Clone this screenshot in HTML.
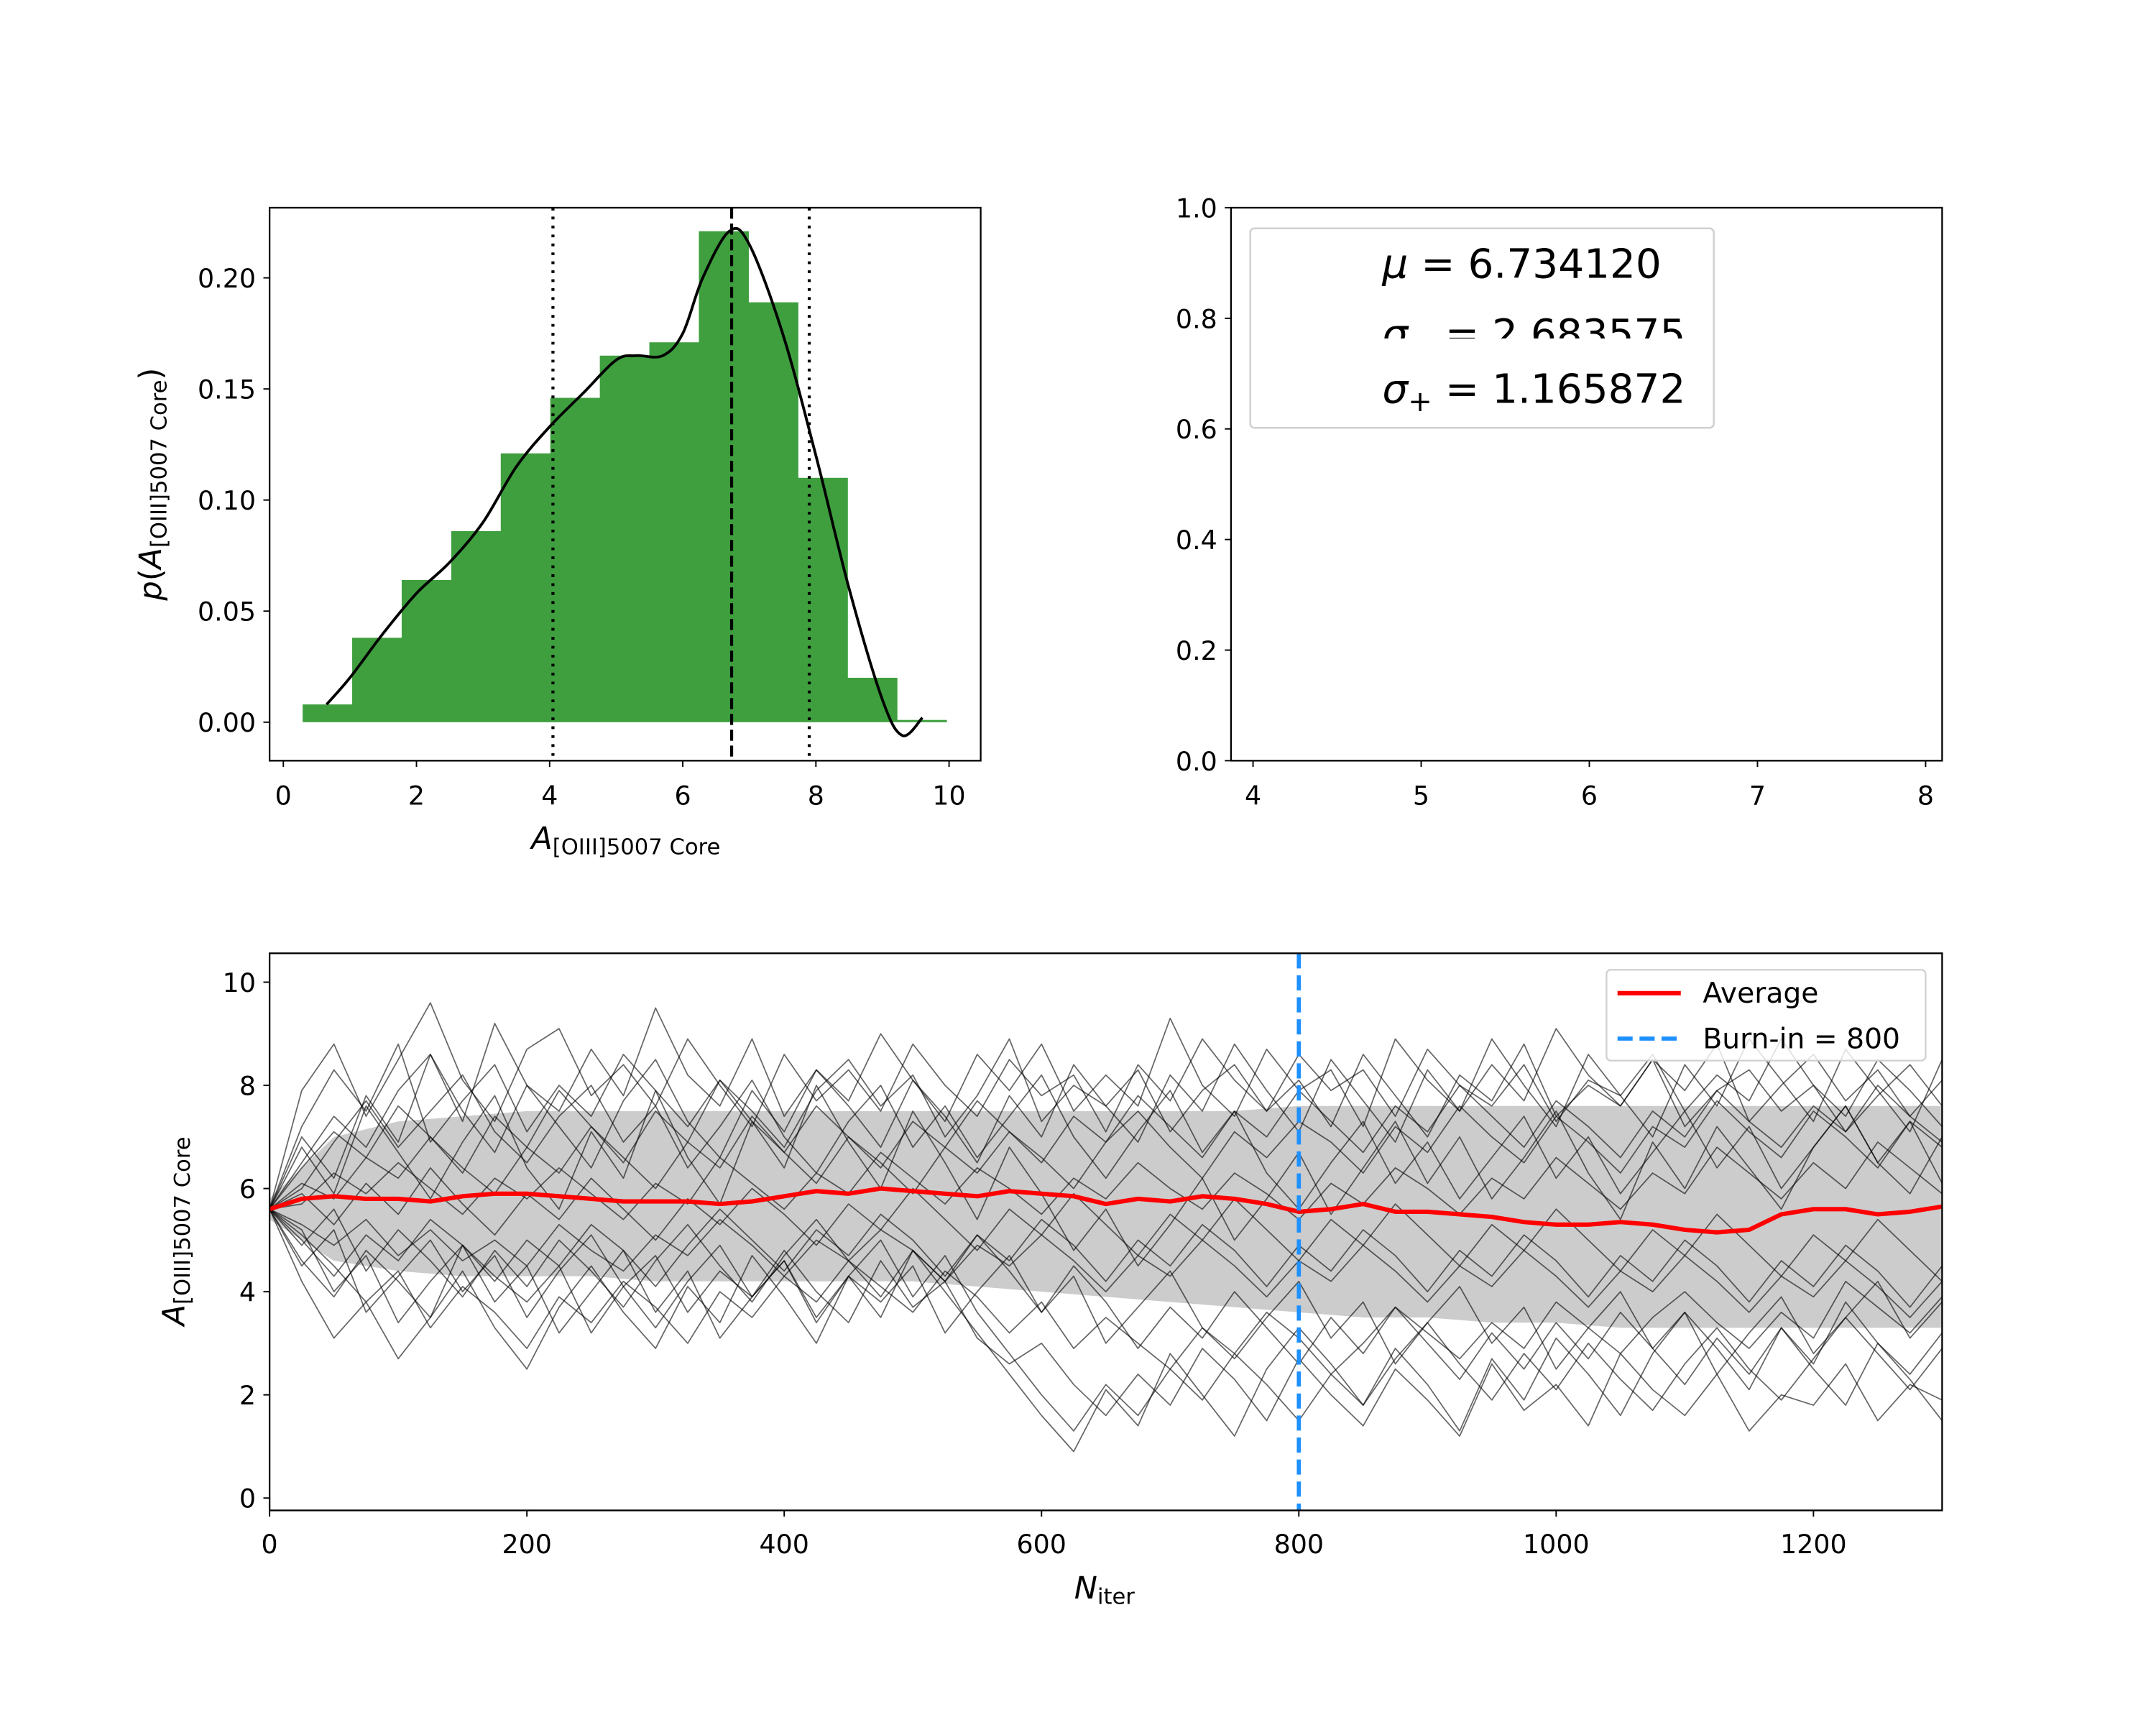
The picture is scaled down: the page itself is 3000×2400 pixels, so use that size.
<!DOCTYPE html>
<html><head><meta charset="utf-8"><style>
html,body{margin:0;padding:0;background:#fff}
svg{display:block}
text{font-family:"DejaVu Sans","Liberation Sans",sans-serif;fill:#000}
</style></head><body>
<svg id="fig" width="3000" height="2400" viewBox="0 0 1567.5 1254" xmlns="http://www.w3.org/2000/svg">
<rect width="1567.5" height="1254" fill="#fff"/>
<g id="hist"></g>
<g id="stats"></g>
<g id="trace"></g>
</svg>
<script>
// ---- histogram data ----
const binStart = 0.29;
const binWidth = 0.744;
const binHeights = [0.008,0.038,0.064,0.086,0.121,0.146,0.165,0.171,0.221,0.189,0.110,0.020,0.001];
const kdeX = [0.65,1.0,1.5,2.0,2.5,3.0,3.5,4.0,4.5,5.0,5.3,5.7,6.0,6.3,6.7,7.0,7.5,8.0,8.5,9.0,9.3,9.6];
const kdeY = [0.008,0.02,0.04,0.058,0.072,0.09,0.115,0.133,0.148,0.163,0.165,0.165,0.175,0.2,0.221,0.215,0.175,0.12,0.06,0.01,-0.006,0.002];
const histXTicks = [0,2,4,6,8,10];
const histYTicks = [0.00,0.05,0.10,0.15,0.20];
const quantileLo = 4.05, meanVal = 6.734, quantileHi = 7.9;
// ---- stats panel ----
const statsXTicks = [4,5,6,7,8];
const statsYTicks = [0.0,0.2,0.4,0.6,0.8,1.0];
// ---- trace data (iterations every 25) ----
const iterStep = 25;
const avgTrace = [5.6,5.8,5.85,5.8,5.8,5.75,5.85,5.9,5.9,5.85,5.8,5.75,5.75,5.75,5.7,5.75,5.85,5.95,5.9,6.0,5.95,5.9,5.85,5.95,5.9,5.85,5.7,5.8,5.75,5.85,5.8,5.7,5.55,5.6,5.7,5.55,5.55,5.5,5.45,5.35,5.3,5.3,5.35,5.3,5.2,5.15,5.2,5.5,5.6,5.6,5.5,5.55,5.65];
const bandLow = [5.4,4.6,4.4,4.3,4.3,4.3,4.2,4.2,4.2,4.2,4.2,4.1,4.0,3.9,3.8,3.7,3.6,3.5,3.5,3.4,3.4,3.3,3.3,3.3,3.3,3.3,3.3];
const bandHigh = [5.8,7.0,7.3,7.4,7.5,7.5,7.5,7.5,7.5,7.5,7.5,7.5,7.5,7.5,7.5,7.5,7.6,7.6,7.6,7.6,7.6,7.6,7.6,7.6,7.6,7.6,7.6];
const bandStep = 50;
const walkers = [
[5.6,7.2,8.3,7.5,8.8,6.9,7.7,8.4,7.1,8.0,7.4,8.6,7.9,7.2,8.1,7.5,6.8,7.9,8.5,7.6,8.2,7.0,7.8,8.9,7.3,8.0,7.6,8.3,7.1,7.9,8.4,7.5,8.1,7.2,8.6,7.8,7.0,8.2,7.7,8.8,7.4,8.0,7.6,8.5,7.2,7.9,8.3,7.5,8.0,7.1,7.8,8.4,7.6],
[5.6,4.6,3.9,4.8,4.2,3.5,4.9,4.3,3.8,4.5,3.2,4.1,4.7,3.6,4.4,3.9,4.8,4.0,3.4,4.6,3.7,4.2,3.1,2.6,3.0,2.2,1.6,2.4,1.8,2.9,2.3,1.5,2.7,2.0,1.4,2.5,1.9,1.2,2.6,1.7,2.2,1.4,2.8,2.1,1.6,2.4,1.3,2.0,1.8,2.6,1.5,2.2,1.9],
[5.6,6.5,7.4,6.8,7.9,8.6,7.3,9.2,8.0,7.5,8.7,7.8,9.5,8.2,7.6,8.9,7.4,8.3,7.7,9.0,8.1,7.3,8.6,7.9,8.8,7.5,8.2,7.6,9.3,8.0,7.4,8.7,7.9,8.3,7.2,8.9,8.1,7.5,8.4,7.7,9.1,8.2,7.6,8.5,7.9,8.8,7.3,8.0,8.6,7.7,8.3,7.4,8.1],
[5.6,5.1,4.5,3.8,4.4,3.3,4.1,3.6,2.9,3.9,3.4,4.2,3.7,3.0,4.0,3.5,4.3,3.8,4.6,4.1,3.6,4.4,3.9,3.2,3.8,2.9,3.5,3.0,2.5,3.3,2.8,3.6,3.1,2.4,3.0,3.7,3.2,2.7,3.4,2.9,3.8,3.3,2.8,3.5,4.0,3.4,2.9,3.6,3.1,4.2,3.7,3.2,3.9],
[5.6,6.1,5.8,6.6,6.2,7.0,6.4,5.9,6.8,6.3,7.2,6.6,6.0,6.9,6.4,7.4,6.7,6.1,7.0,6.5,5.9,6.8,6.3,7.1,6.6,6.0,6.9,7.5,6.8,6.2,7.1,6.6,7.3,6.9,6.3,7.2,6.7,7.6,7.0,6.5,7.4,6.9,6.3,7.2,6.8,7.7,7.1,6.6,7.5,7.0,6.4,7.3,6.8],
[5.6,5.3,4.9,5.4,4.7,5.2,4.6,5.0,4.5,5.3,4.8,4.4,5.1,4.7,5.4,4.9,4.3,5.0,4.6,5.2,4.8,4.2,4.9,4.5,5.1,4.6,4.0,4.7,4.3,5.0,4.5,3.9,4.6,4.2,4.9,4.4,3.8,4.5,4.1,4.8,4.3,3.7,4.4,4.0,4.7,4.2,3.6,4.3,3.9,4.6,4.1,3.5,4.2],
[5.6,6.8,5.9,7.6,6.7,5.8,6.9,7.8,6.4,5.6,7.1,6.2,7.9,6.6,5.7,7.3,6.4,8.0,6.9,6.0,7.5,6.5,5.4,6.8,5.9,4.8,5.6,4.5,5.3,6.2,5.0,5.8,6.7,5.5,6.4,7.3,6.1,7.0,5.8,6.6,7.5,6.3,5.4,6.9,6.0,7.2,6.4,5.6,6.8,7.6,6.5,5.9,7.0],
[5.6,4.2,3.1,3.8,2.7,3.5,4.4,3.3,2.5,3.7,4.5,3.6,2.9,4.1,3.4,4.7,3.9,3.0,4.3,3.5,4.8,4.0,3.2,2.4,1.6,0.9,2.1,1.4,2.8,2.0,1.2,2.5,3.3,2.6,1.8,2.9,2.2,1.3,2.7,1.9,3.1,2.4,1.6,2.8,3.6,2.9,2.1,3.3,2.5,1.8,3.0,2.3,1.5],
[5.6,7.9,8.8,7.4,8.5,9.6,8.1,7.3,8.7,9.1,7.8,8.4,7.6,8.9,8.0,7.2,8.6,7.7,8.3,7.5,8.8,8.0,7.4,8.5,7.8,8.2,7.1,8.4,7.7,8.9,8.1,7.5,8.6,7.9,8.3,7.4,8.7,8.0,7.6,8.4,7.3,8.1,7.8,8.6,7.5,8.2,7.7,8.9,8.0,7.4,8.5,7.9,7.2],
[5.6,5.7,6.3,5.9,6.5,6.0,5.5,6.2,5.8,6.4,5.9,5.4,6.1,5.7,6.6,6.1,5.6,6.3,5.9,6.7,6.2,5.7,6.4,6.0,5.5,6.2,5.8,6.5,6.0,5.6,6.3,5.9,5.4,6.1,5.7,6.4,6.0,5.5,6.2,5.8,6.6,6.1,5.6,6.3,5.9,6.8,6.3,5.8,6.5,6.0,6.9,6.4,5.9],
[5.6,4.9,5.6,4.4,5.2,4.6,3.9,4.8,4.1,5.0,4.4,3.7,4.6,5.3,4.5,3.8,4.7,5.4,4.6,3.9,4.8,4.2,5.1,4.4,3.6,4.5,3.8,2.9,3.7,3.1,4.0,3.3,2.6,3.5,2.8,3.7,3.0,2.3,3.2,2.5,3.4,2.7,3.6,2.9,2.2,3.1,2.4,3.3,2.6,3.8,3.0,2.4,3.2],
[5.6,6.4,7.1,6.6,7.6,7.0,6.3,7.4,6.8,7.9,7.2,6.5,7.5,6.9,8.1,7.3,6.7,7.6,7.0,6.4,7.3,6.8,7.7,7.1,6.5,7.4,6.9,7.8,7.2,6.6,7.5,7.0,7.9,7.3,6.7,7.6,7.1,8.0,7.4,6.8,7.7,7.2,6.6,7.5,7.0,7.9,7.3,6.8,7.6,7.1,8.0,7.4,6.9],
[5.6,5.0,4.3,5.1,4.6,5.4,4.9,4.2,5.0,4.5,5.3,4.8,4.1,4.9,5.6,5.0,4.4,5.2,4.7,5.5,5.0,4.3,5.1,4.6,5.4,4.9,4.2,5.0,4.5,5.3,4.8,4.1,4.9,4.4,5.2,4.7,4.0,4.8,4.3,5.1,4.6,3.9,4.7,4.2,5.0,4.5,3.8,4.6,4.1,4.9,4.4,3.7,4.5],
[5.6,6.0,6.9,7.7,6.8,7.5,8.2,7.1,6.5,7.4,8.0,6.9,7.6,6.4,7.2,8.1,7.0,6.3,7.3,8.0,6.8,7.6,6.6,7.4,8.2,7.0,6.2,7.1,7.9,6.7,7.5,6.3,5.6,6.5,7.3,6.1,6.9,5.8,6.6,7.4,6.2,7.0,5.9,6.7,7.5,6.4,7.2,6.0,6.8,7.6,6.5,7.3,6.1],
[5.6,4.5,5.2,3.6,4.3,5.0,4.0,4.7,3.5,4.4,5.1,4.1,3.3,4.2,4.9,3.9,4.6,3.4,4.3,3.8,4.5,3.2,4.0,4.7,3.6,4.3,3.0,3.7,4.4,3.3,2.7,3.5,4.2,3.1,3.8,2.6,3.4,4.1,3.0,3.7,2.5,3.3,4.0,2.9,3.6,2.4,3.2,3.9,2.8,3.5,4.2,3.1,3.8],
[5.6,5.9,5.3,6.1,5.5,6.4,5.7,5.1,5.9,5.4,6.2,5.6,5.0,5.8,5.3,6.0,5.5,4.9,5.7,5.2,6.0,5.4,4.8,5.6,5.1,5.9,5.3,4.7,5.5,5.0,5.8,5.2,4.6,5.4,4.9,5.7,5.1,4.5,5.3,4.8,5.6,5.0,4.4,5.2,4.7,5.5,4.9,4.3,5.1,4.6,5.4,4.8,4.2],
[5.6,7.0,6.2,7.8,6.9,8.6,7.5,6.7,8.0,7.2,6.4,7.7,8.5,7.3,6.6,7.9,7.1,8.3,7.6,6.8,8.1,7.4,6.5,7.8,7.0,8.4,7.6,6.9,8.2,7.5,8.8,7.9,7.1,8.5,7.7,6.9,8.3,7.5,8.9,8.0,7.2,8.6,7.8,7.0,8.4,7.6,8.9,8.1,7.3,8.7,7.9,7.1,8.5],
[5.6,5.2,4.0,4.7,3.4,4.2,4.9,3.8,4.5,3.2,4.0,4.8,3.6,4.4,3.1,3.9,4.6,3.5,4.3,5.0,3.9,4.7,3.6,2.8,2.0,1.3,2.2,1.6,2.5,1.9,2.8,2.2,1.5,2.4,1.8,2.7,3.4,2.6,1.9,2.8,2.1,3.0,2.3,1.7,2.6,3.3,2.5,1.9,2.7,3.5,2.8,2.1,2.9]
];
const traceXTicks = [0,200,400,600,800,1000,1200];
const traceYTicks = [0,2,4,6,8,10];
const burnIn = 800;

const NS='http://www.w3.org/2000/svg';
const TICK_FS=19, LABEL_FS=22.5, SUB_FS=16;
function el(parent, tag, attrs, txt){
  const e=document.createElementNS(NS,tag);
  for(const k in attrs) e.setAttribute(k,attrs[k]);
  if(txt!==undefined) e.textContent=txt;
  parent.appendChild(e); return e;
}
function smoothPath(pts){
  let d='M'+pts[0][0].toFixed(2)+','+pts[0][1].toFixed(2);
  for(let i=0;i<pts.length-1;i++){
    const p0=pts[Math.max(0,i-1)],p1=pts[i],p2=pts[i+1],p3=pts[Math.min(pts.length-1,i+2)];
    const c1=[p1[0]+(p2[0]-p0[0])/6,p1[1]+(p2[1]-p0[1])/6];
    const c2=[p2[0]-(p3[0]-p1[0])/6,p2[1]-(p3[1]-p1[1])/6];
    d+='C'+c1[0].toFixed(2)+','+c1[1].toFixed(2)+' '+c2[0].toFixed(2)+','+c2[1].toFixed(2)+' '+p2[0].toFixed(2)+','+p2[1].toFixed(2);
  }
  return d;
}
// ================= histogram =================
const H=document.getElementById('hist');
const hx=v=>206+(690-206)*v/10;
const hy=v=>525-(525-202)*v/0.20;
binHeights.forEach((h,i)=>{
  const x0=binStart+i*binWidth;
  const r=el(H,'rect',{x:hx(x0),y:hy(h),width:hx(x0+binWidth)-hx(x0)+0.3,height:hy(0)-hy(h),fill:'#3f9f3f'});
  
  
});
const kde=el(H,'path',{d:smoothPath(kdeX.map((x,i)=>[hx(x),hy(kdeY[i])])),fill:'none',stroke:'#000','stroke-width':2,'stroke-linejoin':'round'});


[[quantileLo,'2,4.5'],[meanVal,'8,3.5'],[quantileHi,'2,4.5']].forEach(([v,da],i)=>{
  const l=el(H,'line',{x1:hx(v),x2:hx(v),y1:151,y2:553,stroke:'#000','stroke-width':2.2,'stroke-dasharray':da});
  
  
});
const hf=el(H,'rect',{x:196,y:151,width:517,height:402,fill:'none',stroke:'#000','stroke-width':1.2});


histXTicks.forEach(t=>{
  el(H,'line',{x1:hx(t),x2:hx(t),y1:553,y2:557.5,stroke:'#000','stroke-width':1});
  const tl=el(H,'text',{x:hx(t),y:585,'font-size':TICK_FS,'text-anchor':'middle'},String(t));
  
  
});
histYTicks.forEach(t=>{
  el(H,'line',{x1:196,x2:191.5,y1:hy(t),y2:hy(t),stroke:'#000','stroke-width':1});
  const tl=el(H,'text',{x:186,y:hy(t)+7,'font-size':TICK_FS,'text-anchor':'end'},t.toFixed(2));
  
  
});
const hxl=el(H,'text',{x:455,y:617,'font-size':LABEL_FS,'text-anchor':'middle'});


hxl.innerHTML='<tspan font-style="italic">A</tspan><tspan font-size="'+SUB_FS+'" dy="4">[OIII]5007 Core</tspan>';
const hyl=el(H,'text',{x:0,y:0,'font-size':LABEL_FS,'text-anchor':'middle',transform:'translate(117,352) rotate(-90)'});


hyl.innerHTML='<tspan font-style="italic">p</tspan>(<tspan font-style="italic">A</tspan><tspan font-size="'+SUB_FS+'" dy="4">[OIII]5007 Core</tspan><tspan dy="-4">)</tspan>';

// ================= stats panel =================
const S=document.getElementById('stats');
const sx=v=>911+(1400-911)*(v-4)/4;
const sy=v=>553-402*v;
const sf=el(S,'rect',{x:895,y:151,width:517,height:402,fill:'none',stroke:'#000','stroke-width':1.2});


statsXTicks.forEach(t=>{
  el(S,'line',{x1:sx(t),x2:sx(t),y1:553,y2:557.5,stroke:'#000','stroke-width':1});
  const tl=el(S,'text',{x:sx(t),y:585,'font-size':TICK_FS,'text-anchor':'middle'},String(t));
  
  
});
statsYTicks.forEach(t=>{
  el(S,'line',{x1:895,x2:890.5,y1:sy(t),y2:sy(t),stroke:'#000','stroke-width':1});
  const tl=el(S,'text',{x:885,y:sy(t)+7,'font-size':TICK_FS,'text-anchor':'end'},t.toFixed(1));
  
  
});
const sb=el(S,'rect',{x:909,y:166,width:337,height:145,rx:3,fill:'#fff',stroke:'#d0d0d0','stroke-width':1.3});


const cp=el(S,'clipPath',{id:'clipSig'});
el(cp,'rect',{x:900,y:200,width:400,height:46});
const t1=el(S,'text',{x:1005,y:202,'font-size':29.5});


t1.innerHTML='<tspan font-style="italic">μ</tspan> = 6.734120';
const t2=el(S,'text',{x:1005,y:253,'font-size':29.5,'clip-path':'url(#clipSig)'});


t2.innerHTML='<tspan font-style="italic">σ</tspan><tspan font-size="21" dy="6">−</tspan><tspan dy="-6"> = 2.683575</tspan>';
const t3=el(S,'text',{x:1005,y:293,'font-size':29.5});


t3.innerHTML='<tspan font-style="italic">σ</tspan><tspan font-size="21" dy="6">+</tspan><tspan dy="-6"> = 1.165872</tspan>';

// ================= trace panel =================
const T=document.getElementById('trace');
const tx=v=>196+(1412-196)*v/1300;
const ty=v=>1089-(1089-714)*v/10;
const ct=el(T,'clipPath',{id:'clipT'});
el(ct,'rect',{x:196,y:693,width:1216,height:405});
const G=el(T,'g',{'clip-path':'url(#clipT)'});
let bp='';
bandHigh.forEach((v,i)=>{bp+=(i?'L':'M')+tx(i*bandStep).toFixed(2)+','+ty(v).toFixed(2);});
for(let i=bandLow.length-1;i>=0;i--){bp+='L'+tx(i*bandStep).toFixed(2)+','+ty(bandLow[i]).toFixed(2);}
const band=el(G,'path',{d:bp+'Z',fill:'#000','fill-opacity':0.2,stroke:'none'});


walkers.forEach(w=>{
  let p='';
  w.forEach((v,i)=>{p+=(i?'L':'M')+tx(i*iterStep).toFixed(2)+','+ty(v).toFixed(2);});
  const wp=el(G,'path',{d:p,fill:'none',stroke:'#000','stroke-opacity':0.6,'stroke-width':0.9,'stroke-linejoin':'round'});
  
  
});
let ap='';
avgTrace.forEach((v,i)=>{ap+=(i?'L':'M')+tx(i*iterStep).toFixed(2)+','+ty(v).toFixed(2);});
const avg=el(G,'path',{d:ap,fill:'none',stroke:'#ff0000','stroke-width':3.2,'stroke-linejoin':'round'});


const bl=el(T,'line',{x1:tx(burnIn),x2:tx(burnIn),y1:693,y2:1098,stroke:'#1e90ff','stroke-width':3,'stroke-dasharray':'11,5'});


const tf=el(T,'rect',{x:196,y:693,width:1216,height:405,fill:'none',stroke:'#000','stroke-width':1.2});


traceXTicks.forEach(t=>{
  el(T,'line',{x1:tx(t),x2:tx(t),y1:1098,y2:1102.5,stroke:'#000','stroke-width':1});
  const tl=el(T,'text',{x:tx(t),y:1129,'font-size':TICK_FS,'text-anchor':'middle'},String(t));
  
  
});
traceYTicks.forEach(t=>{
  el(T,'line',{x1:196,x2:191.5,y1:ty(t),y2:ty(t),stroke:'#000','stroke-width':1});
  const tl=el(T,'text',{x:186,y:ty(t)+7,'font-size':TICK_FS,'text-anchor':'end'},String(t));
  
  
});
const txl=el(T,'text',{x:803,y:1162,'font-size':LABEL_FS,'text-anchor':'middle'});


txl.innerHTML='<tspan font-style="italic">N</tspan><tspan font-size="'+SUB_FS+'" dy="4">iter</tspan>';
const tyl=el(T,'text',{x:0,y:0,'font-size':LABEL_FS,'text-anchor':'middle',transform:'translate(134,895) rotate(-90)'});


tyl.innerHTML='<tspan font-style="italic">A</tspan><tspan font-size="'+SUB_FS+'" dy="4">[OIII]5007 Core</tspan>';
// legend
const L=el(T,'g',{});


el(L,'rect',{x:1168,y:705,width:232,height:66,rx:3,fill:'#fff','fill-opacity':0.8,stroke:'#d0d0d0','stroke-width':1.2});
el(L,'line',{x1:1176,x2:1222,y1:722,y2:722,stroke:'#ff0000','stroke-width':3.2});
const le1=el(L,'text',{x:1238,y:729,'font-size':20.5},'Average');


el(L,'line',{x1:1176,x2:1222,y1:755,y2:755,stroke:'#1e90ff','stroke-width':3,'stroke-dasharray':'11,5'});
const le2=el(L,'text',{x:1238,y:762,'font-size':20.5},'Burn-in = 800');


</script>
</body></html>
